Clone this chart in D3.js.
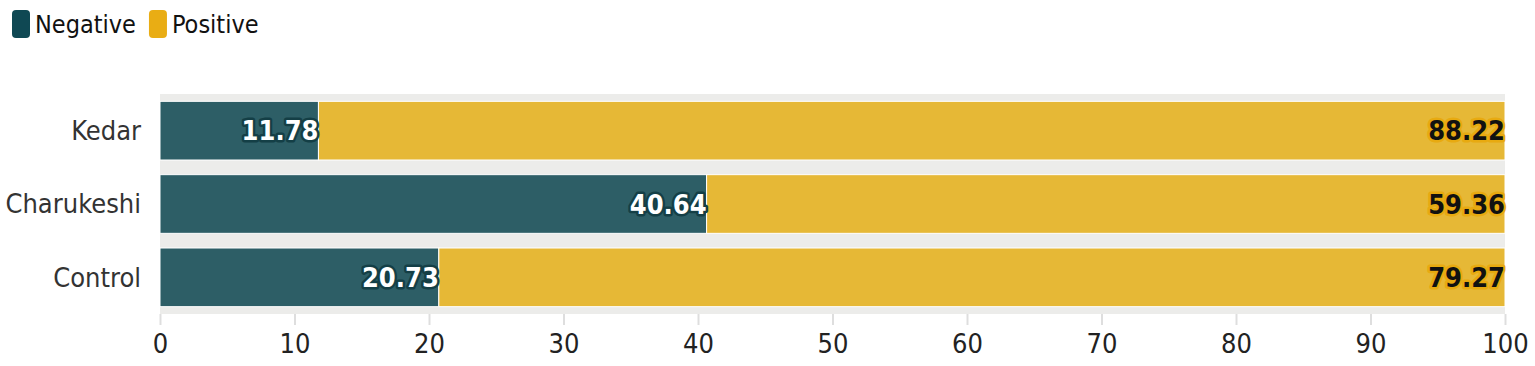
<!DOCTYPE html>
<html>
<head>
<meta charset="utf-8">
<script src="https://cdn.jsdelivr.net/npm/d3@7"></script>
<style>
  body { margin: 0; background: #fff; }
  svg { display: block; }
</style>
</head>
<body>
<svg id="chart" width="1535" height="366"></svg>
<script>
// data
const categories = ['Kedar', 'Charukeshi', 'Control'];
const negative = [11.78, 40.64, 20.73];
const positive = [88.22, 59.36, 79.27];
const seriesNames = ['Negative', 'Positive'];
const xTicks = [0, 10, 20, 30, 40, 50, 60, 70, 80, 90, 100];

const barColors = ['#2d5e66', '#e6b836'];
const legendColors = ['#0f4853', '#e9ad14'];
const font = '"DejaVu Sans Condensed", "DejaVu Sans", sans-serif';

const svg = d3.select('#chart');
const margin = {left: 160, right: 30, top: 94, bottom: 52};
const width = 1535 - margin.left - margin.right;
const height = 366 - margin.top - margin.bottom;

const x = d3.scaleLinear().domain([0, 100]).range([0, width]);
const y = d3.scaleBand().domain(categories).range([0, height])
    .paddingInner(0.2).paddingOuter(0.1);

const g = svg.append('g').attr('transform', `translate(${margin.left},${margin.top})`);

// plot background
g.append('rect')
    .attr('x', 0).attr('y', 0)
    .attr('width', width).attr('height', height)
    .attr('fill', '#ececea');

// x axis
const xAxis = g.append('g')
    .attr('transform', `translate(0,${height})`)
    .call(d3.axisBottom(x).tickValues(xTicks).tickSize(11).tickPadding(9));
xAxis.select('.domain').remove();
xAxis.selectAll('line').attr('stroke', '#dedede').attr('stroke-width', 2);
xAxis.selectAll('text')
    .attr('font-family', font).attr('font-size', 27).attr('fill', '#222');

// y labels
g.selectAll('.cat')
    .data(categories)
    .join('text')
    .attr('class', 'cat')
    .attr('x', -19)
    .attr('y', d => y(d) + y.bandwidth() / 2)
    .attr('dy', '0.35em')
    .attr('text-anchor', 'end')
    .attr('font-family', font).attr('font-size', 27).attr('fill', '#333')
    .text(d => d);

// stacked bars
const rows = categories.map((c, i) => ({cat: c, neg: negative[i], pos: positive[i]}));
const stack = d3.stack().keys(['neg', 'pos'])(rows);

stack.forEach((layer, li) => {
  g.selectAll('.bar' + li)
      .data(layer)
      .join('rect')
      .attr('x', d => x(d[0]))
      .attr('y', d => y(d.data.cat))
      .attr('width', d => x(d[1]) - x(d[0]))
      .attr('height', y.bandwidth())
      .attr('fill', barColors[li])
      .attr('stroke', '#fff')
      .attr('stroke-width', 1);
});

// value labels
const labelStyle = [
  {fill: '#fff', stroke: '#143f46'},
  {fill: '#111', stroke: '#e8aa10'}
];
stack.forEach((layer, li) => {
  g.selectAll('.lab' + li)
      .data(layer)
      .join('text')
      .attr('x', d => x(d[1]))
      .attr('y', d => y(d.data.cat) + y.bandwidth() / 2)
      .attr('dy', '0.36em')
      .attr('text-anchor', 'end')
      .attr('font-family', font).attr('font-size', 27).attr('font-weight', 'bold')
      .attr('fill', labelStyle[li].fill)
      .attr('stroke', labelStyle[li].stroke)
      .attr('stroke-width', 5)
      .attr('stroke-linejoin', 'round')
      .attr('paint-order', 'stroke')
      .text(d => (d[1] - d[0]).toFixed(2));
});

// legend
const legend = svg.append('g').attr('transform', 'translate(12,10)');
let lx = 0;
seriesNames.forEach((name, i) => {
  const item = legend.append('g').attr('transform', `translate(${lx},0)`);
  item.append('rect')
      .attr('width', 18).attr('height', 28).attr('rx', 4)
      .attr('fill', legendColors[i]);
  const t = item.append('text')
      .attr('x', 23).attr('y', 14).attr('dy', '0.35em')
      .attr('font-family', font).attr('font-size', 25).attr('fill', '#111')
      .text(name);
  lx += 23 + t.node().getComputedTextLength() + 13;
});
</script>
</body>
</html>
